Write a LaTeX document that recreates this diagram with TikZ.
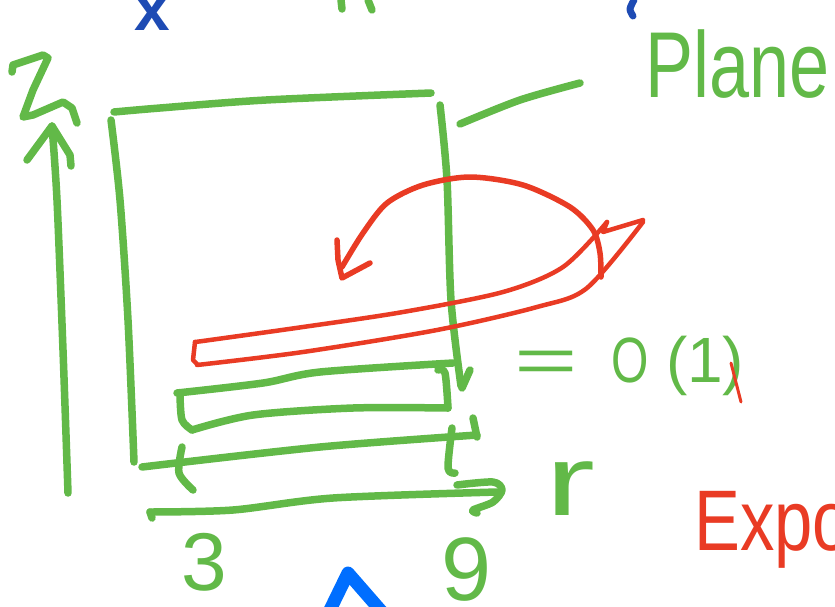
\documentclass[tikz,border=0pt]{standalone}
\usepackage{fontspec}
\setmainfont{Liberation Sans}
\definecolor{gpen}{HTML}{62B948}
\definecolor{rpen}{HTML}{E93B24}
\definecolor{bpen}{HTML}{1E4BB4}
\definecolor{bbright}{HTML}{006EFF}
\tikzset{
  gstroke/.style={draw=gpen,line width=7.5pt,line cap=round,line join=round},
  rstroke/.style={draw=rpen,line width=4.5pt,line cap=round,line join=round},
  rarc/.style={draw=rpen,line width=5.5pt,line cap=round,line join=round},
  bstroke/.style={draw=bpen,line width=7pt,line cap=round,line join=round},
  gtext/.style={text=gpen,anchor=base west,inner sep=0pt},
  rtext/.style={text=rpen,anchor=base west,inner sep=0pt},
  btext/.style={text=bpen,anchor=base west,inner sep=0pt}
}
\begin{document}
\begin{tikzpicture}[x=1pt,y=-1pt]
\useasboundingbox (0,0) rectangle (835,606);
% partial strokes at the top edge
\node[btext] (xlabel) at (134,30) {\fontsize{64}{64}\selectfont\bfseries x};
\draw[gstroke] (341,0) -- (342,9);
\draw[gstroke] (368,0) -- (372,10);
\draw[bstroke] plot[smooth] coordinates {(634,0) (630,9) (633,16)};
% z axis with arrow and label
\draw[gstroke] plot[smooth] coordinates {(68,493) (63,350) (57,200) (52,126)};
\draw[gstroke] (27,160) -- (52,126) -- (70,155) -- (71,166);
\draw[gstroke] plot coordinates {(12,72) (13,65) (43,55) (48,58) (33,90) (23,117) (33,115) (63,102) (72,108) (77,123)};
% plane (big rectangle)
\draw[gstroke] plot[smooth] coordinates {(114,112) (160,108) (266,100) (431,93)};
\draw[gstroke] plot[smooth] coordinates {(111,120) (120,200) (128,320) (134,462)};
\draw[gstroke] plot[smooth] coordinates {(440,105) (447,180) (451,300) (461,386)};
\draw[gstroke] (470,370) -- (462,388);
\draw[gstroke] plot[smooth] coordinates {(460,124) (520,100) (580,83)};
\node[gtext] (plane) at (645,97) {\scalebox{1}[1.3]{\fontsize{72}{72}\selectfont Plane}};
% red layer
\draw[rstroke] (195,342) -- (193,360) -- (197,364);
\draw[rstroke] plot[smooth] coordinates {(195,342) (210,340) (303,327) (403,312) (503,292) (563,267) (607,222)};
\draw[rstroke] plot[smooth] coordinates {(197,365) (303,352) (437,330) (537,307) (587,288) (643,222)};
\draw[rstroke] (607,222) -- (603,232) -- (643,220);
\draw[rarc] plot[smooth] coordinates {(601,277) (600,253) (593,230) (570,207) (523,185) (470,177) (423,185) (387,203) (363,233) (342,267)};
\draw[rarc] (337,240) -- (338,260) -- (342,278) -- (370,263);
% green small layer
\draw[gstroke] plot[smooth] coordinates {(177,393) (263,383) (320,372) (453,363)};
\draw[gstroke] plot[smooth] coordinates {(180,395) (182,420) (192,430)};
\draw[gstroke] plot[smooth] coordinates {(192,430) (253,415) (353,408) (448,408)};
\draw[gstroke] plot[smooth] coordinates {(438,370) (445,373) (448,408)};
\node[gtext] (order) at (514,382) {\fontsize{64}{64}\selectfont\scalebox{1.7}[1]{=}\hspace{34pt}\scalebox{0.75}[1]{O}\hspace{17pt}(1)};
\draw[draw=rpen,line width=3pt,line cap=round] (731,363) -- (741,402);
% r axis
\draw[gstroke] plot[smooth] coordinates {(142,467) (320,447) (477,435)};
\draw[gstroke] (473,418) -- (477,437);
\draw[gstroke] plot[smooth] coordinates {(182,447) (179,473) (193,490)};
\draw[gstroke] plot[smooth] coordinates {(452,428) (448,468) (455,473)};
\draw[gstroke] plot[smooth] coordinates {(150,512) (233,510) (333,498) (497,492)};
\draw[gstroke] (152,518) -- (150,512);
\draw[gstroke] plot[smooth] coordinates {(457,485) (493,482) (502,490) (493,502) (473,510) (477,513)};
\node[gtext] (rlabel) at (545,515) {\scalebox{1.5}[1]{\fontsize{100}{100}\selectfont r}};
\node[gtext] (three) at (181,590) {\fontsize{82}{82}\selectfont 3};
\node[gtext] (nine) at (441,600) {\fontsize{90}{90}\selectfont 9};
% blue mark at the bottom
\draw[draw=bbright,line width=13pt,line cap=round,line join=round] (329,612) -- (348,573) -- (382,612);
% red text
\node[rtext] (expo) at (694,550) {\scalebox{0.8}[1]{\fontsize{86}{86}\selectfont Expo}};
\end{tikzpicture}
\end{document}
